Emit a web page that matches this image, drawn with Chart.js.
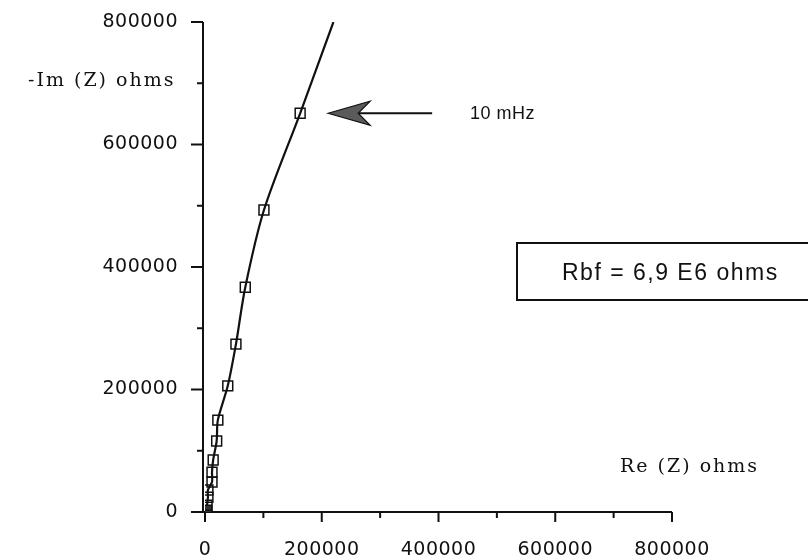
<!DOCTYPE html>
<html>
<head>
<meta charset="utf-8">
<script src="https://cdn.jsdelivr.net/npm/chart.js@4.4.1/dist/chart.umd.min.js"></script>
<style>
  html, body { margin: 0; padding: 0; background: #fff; }
  #wrap { width: 808px; height: 559px; }
</style>
</head>
<body>
<div id="wrap"><canvas id="nyquist" width="808" height="559"></canvas></div>
<script>
// impedance points (ohms); last pair is only where the fitted line leaves the frame
const reZ = [3000, 3500, 5000, 5000, 12000, 12000, 14000, 20000, 22000, 39000, 53000, 69000, 101000, 163000, 220000];
const imZ = [3000, 11000, 24000, 36000, 49000, 65000, 85000, 116000, 150000, 206000, 274000, 367000, 493000, 651000, 800000];
const xTicks = [0, 200000, 400000, 600000, 800000];
const yTicks = [0, 200000, 400000, 600000, 800000];
const minorStep = 100000;

const INK = '#111';
const points = reZ.map((r, i) => ({ x: r, y: imZ[i] }));
const lastIdx = points.length - 1;

// axis lines + major/minor ticks, drawn off the chart scales
const axisDecor = {
  id: 'axisDecor',
  beforeDraw(chart) {
    chart.ctx.letterSpacing = '0.5px';
  },
  beforeDatasetsDraw(chart) {
    const { ctx, chartArea: a, scales: { x, y } } = chart;
    const ax = a.left - 2;
    ctx.save();
    ctx.strokeStyle = INK;
    ctx.lineWidth = 2;
    ctx.beginPath();
    ctx.moveTo(ax, y.getPixelForValue(800000));
    ctx.lineTo(ax, a.bottom);
    ctx.moveTo(ax - 10, a.bottom);
    ctx.lineTo(x.getPixelForValue(800000), a.bottom);
    for (let v = 0; v <= 800000; v += minorStep) {
      const major = v % 200000 === 0;
      const py = y.getPixelForValue(v);
      ctx.moveTo(ax - (major ? 12 : 6), py);
      ctx.lineTo(ax, py);
      const px = x.getPixelForValue(v);
      ctx.moveTo(px, a.bottom);
      ctx.lineTo(px, a.bottom + (major ? 10 : 6));
    }
    ctx.stroke();
    ctx.restore();
  },
  afterDraw(chart) {
    const { ctx, scales: { x, y } } = chart;
    ctx.save();
    ctx.fillStyle = INK;
    ctx.textBaseline = 'alphabetic';

    ctx.font = '19px "DejaVu Serif"';
    ctx.letterSpacing = '2px';
    ctx.fillText('-Im (Z) ohms', 28, 86);
    ctx.fillText('Re (Z) ohms', 620, 472);

    // arrow to the 10 mHz point
    const tipX = x.getPixelForValue(reZ[13]) + 28;
    const tipY = y.getPixelForValue(imZ[13]);
    ctx.strokeStyle = INK;
    ctx.lineWidth = 2;
    ctx.beginPath();
    ctx.moveTo(tipX + 28, tipY);
    ctx.lineTo(tipX + 104, tipY);
    ctx.stroke();
    ctx.beginPath();
    ctx.moveTo(tipX, tipY);
    ctx.lineTo(tipX + 42, tipY - 12);
    ctx.lineTo(tipX + 30, tipY);
    ctx.lineTo(tipX + 42, tipY + 12);
    ctx.closePath();
    ctx.fillStyle = '#5a5a5a';
    ctx.fill();
    ctx.lineWidth = 1.2;
    ctx.stroke();

    ctx.fillStyle = INK;
    ctx.letterSpacing = '0.5px';
    ctx.font = '18px "Liberation Sans"';
    ctx.fillText('10 mHz', 470, tipY + 6);

    // result box, runs off the right edge like the scan
    ctx.lineWidth = 2;
    ctx.strokeRect(517, 243, 300, 57);
    ctx.font = '23px "Liberation Sans"';
    ctx.letterSpacing = '1.5px';
    ctx.fillText('Rbf = 6,9 E6 ohms', 562, 280);
    ctx.restore();
  }
};

new Chart(document.getElementById('nyquist'), {
  type: 'scatter',
  data: {
    datasets: [{
      data: points,
      showLine: true,
      tension: 0.3,
      borderColor: INK,
      borderWidth: 2.2,
      pointStyle: 'rect',
      pointRadius: points.map((p, i) => i === lastIdx ? 0 : 7),
      pointBorderWidth: 1.5,
      pointBorderColor: INK,
      pointBackgroundColor: points.map((p, i) => i === 0 ? '#333' : 'rgba(255,255,255,0)')
    }]
  },
  options: {
    responsive: false,
    animation: false,
    devicePixelRatio: 1,
    layout: { padding: { top: 22, right: 136, left: 0, bottom: 0 } },
    plugins: { legend: { display: false }, tooltip: { enabled: false } },
    scales: {
      x: {
        type: 'linear',
        min: 0,
        max: 800000,
        afterBuildTicks: s => { s.ticks = xTicks.map(v => ({ value: v })); },
        afterFit: s => { s.height = 47; s.paddingLeft = 0; s.paddingRight = 0; },
        grid: { display: false, drawTicks: false },
        border: { display: false },
        ticks: {
          color: INK,
          padding: 27,
          maxRotation: 0,
          autoSkip: false,
          font: { family: 'DejaVu Sans', size: 19 },
          callback: v => String(v)
        }
      },
      y: {
        type: 'linear',
        min: 0,
        max: 800000,
        afterBuildTicks: s => { s.ticks = yTicks.map(v => ({ value: v })); },
        afterFit: s => { s.width = 205; s.paddingTop = 0; s.paddingBottom = 0; },
        grid: { display: false, drawTicks: false },
        border: { display: false },
        ticks: {
          color: INK,
          padding: 27,
          autoSkip: false,
          font: { family: 'DejaVu Sans', size: 19 },
          callback: v => String(v)
        }
      }
    }
  },
  plugins: [axisDecor]
});
</script>
</body>
</html>
